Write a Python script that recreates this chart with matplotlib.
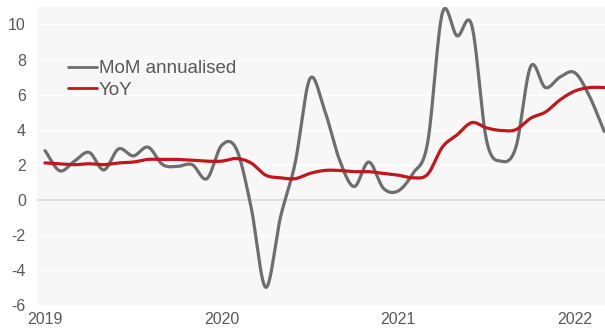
import numpy as np
import matplotlib
matplotlib.use("Agg")
import matplotlib.pyplot as plt

months = np.arange(39)  # Jan 2019 .. Mar 2022
mom = [2.8, 1.65, 2.2, 2.7, 1.7, 2.9, 2.5, 3.0, 2.0, 1.9, 2.0, 1.2,
       3.1, 2.9, -0.4, -5.0, -1.0, 2.1, 6.9, 5.1, 2.3, 0.75, 2.15, 0.65,
       0.5, 1.5, 3.25, 10.65, 9.35, 9.95, 3.4, 2.2, 3.0, 7.6, 6.4, 7.0,
       7.25, 5.9, 3.9]
yoy = [2.1, 2.05, 2.0, 2.05, 2.0, 2.1, 2.15, 2.3, 2.3, 2.3, 2.25, 2.2,
       2.2, 2.35, 2.1, 1.4, 1.25, 1.2, 1.5, 1.67, 1.67, 1.6, 1.6, 1.5,
       1.4, 1.25, 1.45, 3.0, 3.7, 4.4, 4.1, 3.95, 4.0, 4.65, 5.0, 5.7,
       6.2, 6.4, 6.4]
year_ticks = [0, 12, 24, 36]
year_labels = ["2019", "2020", "2021", "2022"]
y_ticks = [-6, -4, -2, 0, 2, 4, 6, 8, 10]


def smooth(x, y, n=24):
    x = np.asarray(x, float)
    y = np.asarray(y, float)
    px = np.concatenate([[2 * x[0] - x[1]], x, [2 * x[-1] - x[-2]]])
    py = np.concatenate([[2 * y[0] - y[1]], y, [2 * y[-1] - y[-2]]])
    xs, ys = [], []
    t = np.linspace(0, 1, n, endpoint=False)
    for i in range(1, len(px) - 2):
        p0, p1, p2, p3 = py[i - 1], py[i], py[i + 1], py[i + 2]
        q0, q1, q2, q3 = px[i - 1], px[i], px[i + 1], px[i + 2]
        f = lambda a0, a1, a2, a3: 0.5 * ((2 * a1) + (-a0 + a2) * t +
                                          (2 * a0 - 5 * a1 + 4 * a2 - a3) * t ** 2 +
                                          (-a0 + 3 * a1 - 3 * a2 + a3) * t ** 3)
        xs.append(f(q0, q1, q2, q3))
        ys.append(f(p0, p1, p2, p3))
    xs.append([x[-1]])
    ys.append([y[-1]])
    return np.concatenate(xs), np.concatenate(ys)


plt.rcParams['font.family'] = ['Liberation Sans', 'DejaVu Sans']
fig = plt.figure(figsize=(6.05, 3.31), dpi=100)
ax = fig.add_axes([0.061, 0.079, 0.945, 0.9])
ax.set_facecolor('#f7f7f7')

for v in y_ticks:
    if v != 0:
        ax.axhline(v, color='white', lw=1.0, zorder=1)
ax.axhline(0, color='#d9d9d9', lw=1.2, zorder=1)

gx, gy = smooth(months, mom)
rx, ry = smooth(months, yoy)
ax.plot(gx, gy, color='#6e6e6e', lw=2.3, label='MoM annualised', zorder=3,
        solid_capstyle='round')
ax.plot(rx, ry, color='#c3161c', lw=2.3, label='YoY', zorder=4,
        solid_capstyle='round')

ax.set_xlim(-0.55, 38.3)
ax.set_ylim(-6, 11)
ax.set_yticks(y_ticks)
ax.set_yticklabels([str(v) for v in y_ticks])
ax.set_xticks(year_ticks)
ax.set_xticklabels(year_labels)
ax.tick_params(axis='both', length=0, labelsize=11.5, colors='#595959')
ax.tick_params(axis='y', pad=8)
ax.tick_params(axis='x', pad=5)
for s in ax.spines.values():
    s.set_visible(False)

leg = ax.legend(loc='upper left', bbox_to_anchor=(0.055, 0.822), frameon=False,
                fontsize=13.5, handlelength=1.55, handletextpad=0.06,
                labelspacing=0.25, borderaxespad=0, borderpad=0)
for t in leg.get_texts():
    t.set_color('#595959')
for h in leg.get_lines():
    h.set_linewidth(2.0)

fig.savefig('out.png', dpi=100, facecolor='white')
